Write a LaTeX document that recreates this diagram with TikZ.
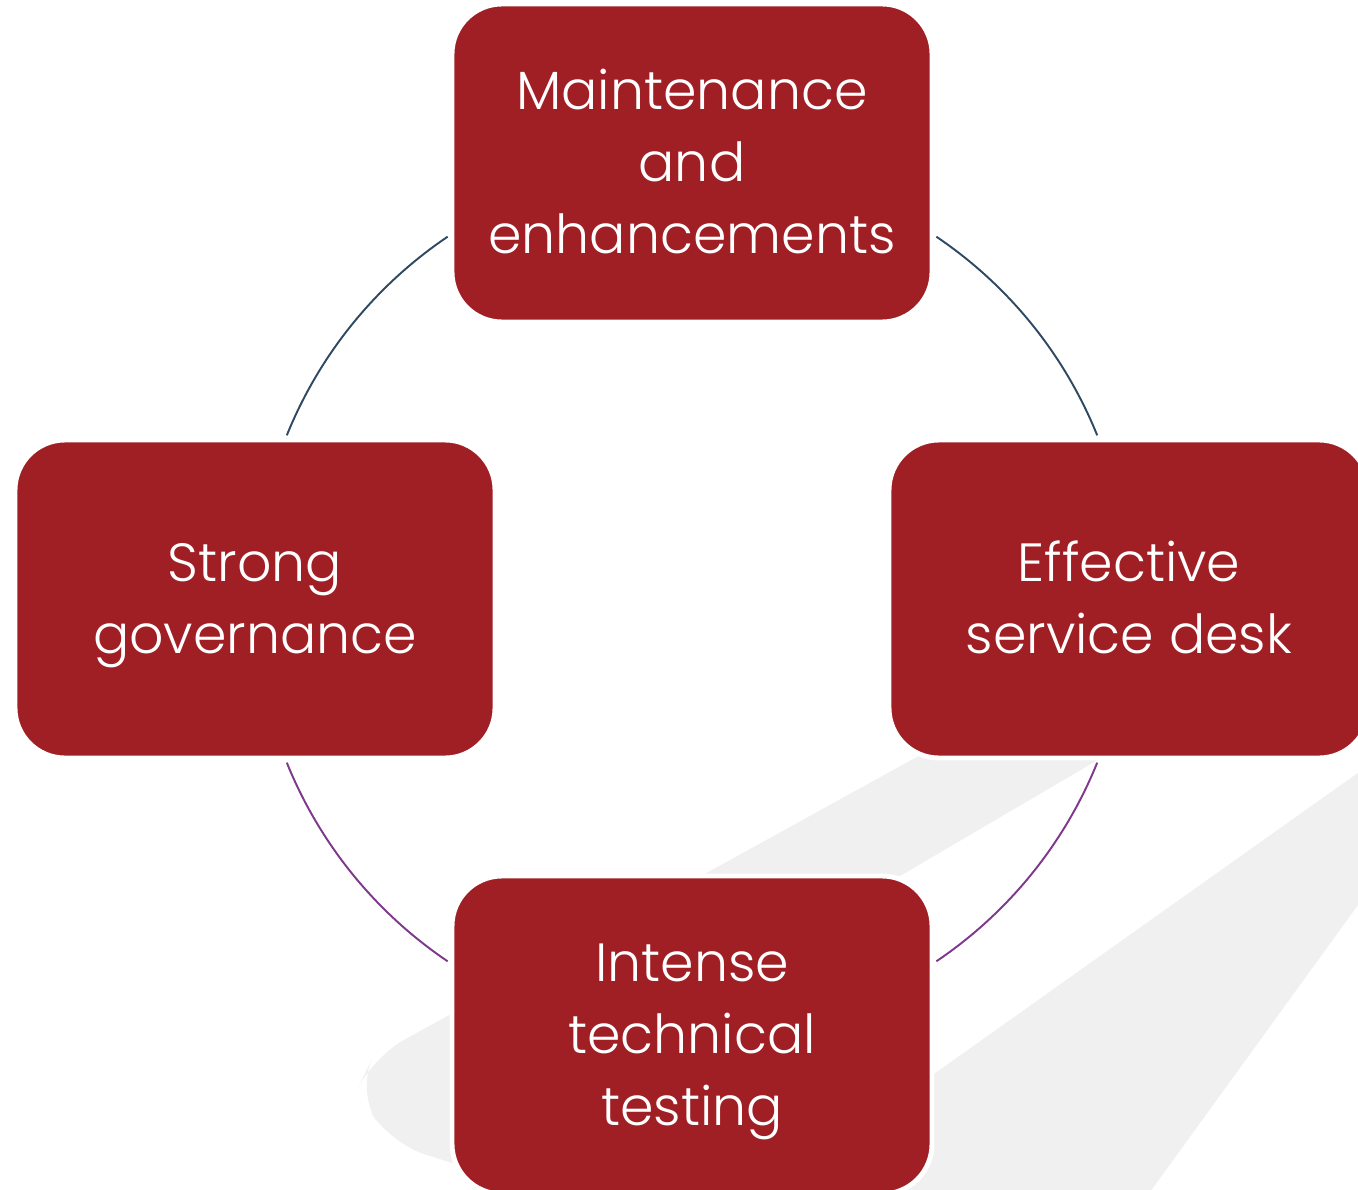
\documentclass[tikz,border=0pt]{standalone}
\usepackage{fontspec}
\setmainfont{Poppins Light}
\usepackage{tikz}
\usetikzlibrary{positioning}
\definecolor{boxred}{RGB}{160,31,36}
\definecolor{shadegrey}{RGB}{240,240,240}
\definecolor{arcblue}{RGB}{47,73,99}
\definecolor{arcpurple}{RGB}{126,56,140}
\newcommand{\headroom}{\rule{0pt}{16.9pt}}

\begin{document}
\begin{tikzpicture}[
    area/.style={rectangle, rounded corners=0.5cm, minimum width=4.80cm, minimum height=3.18cm,
      fill=boxred, draw=white, line width=1.4pt, text=white, align=center, inner sep=0pt,
      font=\fontsize{15.3}{20.5}\selectfont},
    toparc/.style={draw=arcblue, line width=0.55pt},
    botarc/.style={draw=arcpurple, line width=0.55pt},
    shade/.style={fill=shadegrey, rounded corners=10pt}
  ]
  \useasboundingbox (0,0) rectangle (13.58,11.89);
  \clip (0,0) rectangle (13.58,11.89);
          \fill[shade] (10.20,4.89) -- (12.00,4.89) -- (6.00,1.37) -- (5.20,0.04) -- (3.90,0.46) -- (3.57,0.99) -- (3.73,1.32) -- cycle;
          \fill[shadegrey] (14.00,4.46) -- (14.00,3.42) -- (11.08,-0.61) -- (6.86,-0.61) -- cycle;
          \coordinate (hub) at (6.92,5.90);
          \draw[toparc] ([shift={(22:4.37)}]hub) arc[start angle=22, end angle=56, radius=4.37];
          \draw[toparc] ([shift={(124:4.37)}]hub) arc[start angle=124, end angle=158, radius=4.37];
          \draw[botarc] ([shift={(202:4.37)}]hub) arc[start angle=202, end angle=236, radius=4.37];
          \draw[botarc] ([shift={(304:4.37)}]hub) arc[start angle=304, end angle=338, radius=4.37];
          \node[area] (upkeep) at (6.92,10.26) {\headroom Maintenance\\and\\enhancements\strut};
          \node[area] (governance) at (2.55,5.90) {\headroom Strong\\governance\strut};
          \node[area] (servicedesk) at (11.29,5.90) {\headroom Effective\\service desk\strut};
          \node[area] (testing) at (6.92,1.54) {\headroom Intense\\technical\\testing\strut};
        \end{tikzpicture}
\end{document}
